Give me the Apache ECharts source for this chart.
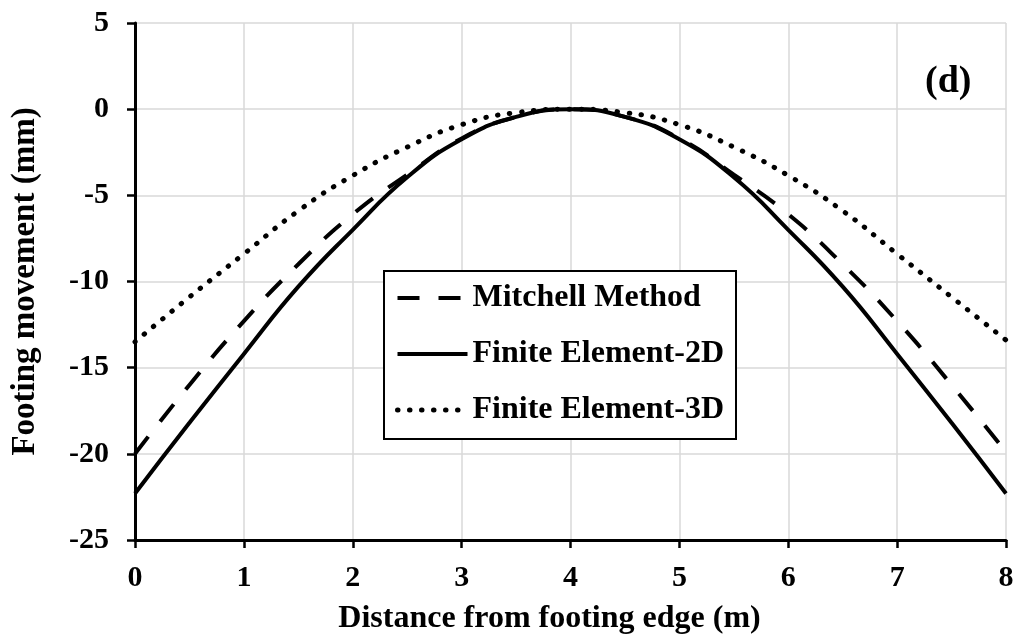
<!DOCTYPE html>
<html>
<head>
<meta charset="utf-8">
<style>
  html, body { margin: 0; padding: 0; background: #fff; }
  #chart { width: 1018px; height: 640px; }
</style>
<script src="https://cdn.jsdelivr.net/npm/echarts@6/dist/echarts.min.js"></script>
</head>
<body>
<div id="chart"></div>
<script>
// Distance from footing edge (m)
const distance = [0, 0.5, 1, 1.5, 2, 2.5, 3, 3.5, 4, 4.5, 5, 5.5, 6, 6.5, 7, 7.5, 8];

// Footing movement (mm)
const mitchell = [-20.0, -16.0, -12.3, -9.0, -6.1, -3.8, -1.7, -0.45, 0, -0.45, -1.7, -3.8, -6.1, -9.0, -12.3, -16.0, -19.9];
const fe2d     = [-22.3, -18.2, -14.2, -10.3, -7.0, -3.95, -1.75, -0.45, 0, -0.45, -1.75, -3.95, -7.0, -10.3, -14.2, -18.2, -22.3];
const fe3d     = [-13.5, -10.9, -8.4, -5.9, -3.85, -2.2, -0.9, -0.2, 0, -0.2, -0.9, -2.2, -3.85, -5.9, -8.4, -10.9, -13.4];

const seriesNames = ['Mitchell Method', 'Finite Element-2D', 'Finite Element-3D'];
const panelLabel = '(d)';

const pairs = (ys) => distance.map((x, i) => [x, ys[i]]);
const FONT = '"Liberation Serif", "Times New Roman", serif';

const chart = echarts.init(document.getElementById('chart'), null, { renderer: 'canvas' });

const axisCommon = {
  axisLine: { show: true, onZero: false, lineStyle: { color: '#000', width: 3 } },
  axisTick: { show: true, inside: false, length: 8, lineStyle: { color: '#000', width: 2.5 } },
  splitLine: { show: true, lineStyle: { color: '#d9d9d9', width: 1.5 } },
  axisLabel: { color: '#000', fontFamily: FONT, fontWeight: 'bold', fontSize: 30 },
  nameTextStyle: { color: '#000', fontFamily: FONT, fontWeight: 'bold', fontSize: 32 }
};

chart.setOption({
  animation: false,
  backgroundColor: '#fff',
  title: {
    text: panelLabel,
    left: 920, top: 58,
    textStyle: { color: '#000', fontFamily: FONT, fontWeight: 'bold', fontSize: 38 }
  },
  grid: { left: 135, right: 12, top: 23, bottom: 97, containLabel: false },
  xAxis: Object.assign({}, axisCommon, {
    type: 'value', min: 0, max: 8, interval: 1,
    name: 'Distance from footing edge (m)',
    nameLocation: 'middle', nameGap: 63,
    axisLabel: Object.assign({}, axisCommon.axisLabel, { margin: 23 }),
    nameTextStyle: Object.assign({}, axisCommon.nameTextStyle, { padding: [0, 42, 0, 0] })
  }),
  yAxis: Object.assign({}, axisCommon, {
    type: 'value', min: -25, max: 5, interval: 5,
    name: 'Footing movement (mm)',
    nameLocation: 'middle', nameGap: 93,
    axisLabel: Object.assign({}, axisCommon.axisLabel, { margin: 26 }),
    nameTextStyle: Object.assign({}, axisCommon.nameTextStyle, { fontSize: 33 })
  }),
  legend: {
    orient: 'vertical',
    left: 384, top: 271,
    padding: [9, 12, 11, 11],
    backgroundColor: '#fff',
    borderColor: '#000', borderWidth: 2,
    itemWidth: 70, itemHeight: 14, itemGap: 20,
    itemStyle: { color: 'rgba(0,0,0,0)', borderWidth: 0, opacity: 0 },
    lineStyle: { width: 'inherit', type: 'inherit', color: '#000' },
    textStyle: { color: '#000', fontFamily: FONT, fontWeight: 'bold', fontSize: 32, lineHeight: 36 },
    data: seriesNames
  },
  series: [
    {
      name: seriesNames[0], type: 'line', data: pairs(mitchell),
      smooth: true, symbol: 'none',
      itemStyle: { color: '#000' },
      lineStyle: { color: '#000', width: 4, type: [22, 19], cap: 'butt' }
    },
    {
      name: seriesNames[1], type: 'line', data: pairs(fe2d),
      smooth: true, symbol: 'none',
      itemStyle: { color: '#000' },
      lineStyle: { color: '#000', width: 4, type: 'solid' }
    },
    {
      name: seriesNames[2], type: 'line', data: pairs(fe3d),
      smooth: true, symbol: 'none',
      itemStyle: { color: '#000' },
      lineStyle: { color: '#000', width: 5, type: [0.5, 11.5], cap: 'round' }
    }
  ]
});
</script>
</body>
</html>
